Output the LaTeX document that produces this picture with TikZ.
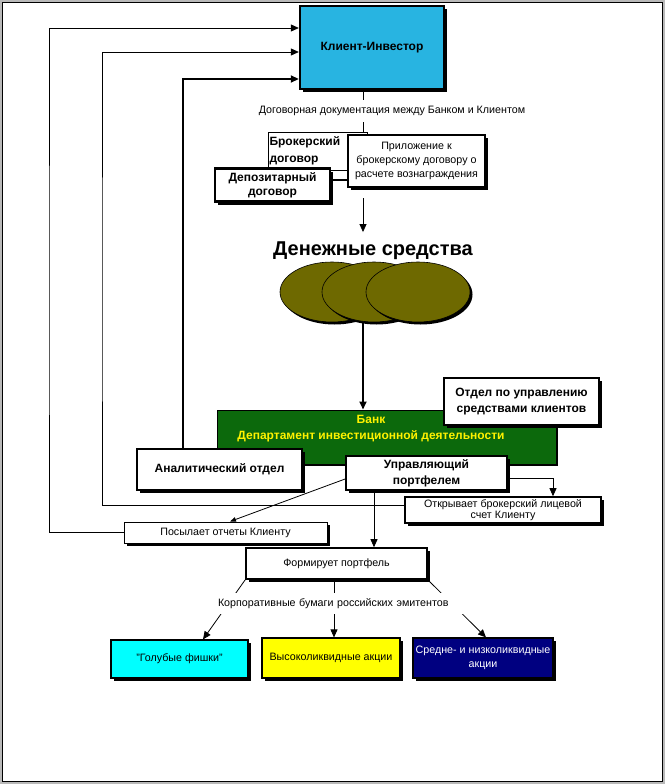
\documentclass[tikz,border=0pt]{standalone}
\usepackage{fontspec}
\setmainfont{Liberation Sans}
\usetikzlibrary{arrows.meta,shadows,shapes.geometric}
\definecolor{clientblue}{RGB}{40,180,225}
\definecolor{bankgreen}{RGB}{12,105,12}
\definecolor{coinolive}{RGB}{110,105,0}
\definecolor{navyblue}{RGB}{0,0,128}
\definecolor{chipcyan}{RGB}{0,255,255}
\definecolor{chipyellow}{RGB}{255,255,0}
\tikzset{
  box/.style={draw,fill=white,line width=1.2pt,inner sep=1pt,align=center,font=\fontsize{10.7}{11.5}\selectfont},
  bbox/.style={box,font=\bfseries\fontsize{12}{16}\selectfont},
  shadowed/.style={drop shadow={shadow xshift=3pt,shadow yshift=-3pt,opacity=1,fill=black}},
  coin/.style={ellipse,draw,line width=0.6pt,fill=coinolive,minimum width=104,minimum height=60,inner sep=0pt,
    drop shadow={shadow xshift=2.5pt,shadow yshift=-2.5pt,opacity=1,fill=black}},
  link/.style={line width=0.8pt},
  heavy/.style={line width=1.8pt},
  smalltext/.style={font=\fontsize{10.7}{11.5}\selectfont},
}
\begin{document}
\begin{tikzpicture}[x=1pt,y=-1pt,>={Triangle[length=8pt,width=7pt]}]
\useasboundingbox (0,0) rectangle (665,784);
% frame
\draw[gray!55,line width=2pt] (1,1) rectangle (664,783);
\draw[line width=0.8pt] (2.5,2.5) rectangle (662.5,781.5);

% client and contracts
\node[bbox,shadowed,fill=clientblue,line width=2.4pt,minimum width=144,minimum height=83] (client) at (372,47.5) {Клиент-Инвестор};
\node[bbox,align=left,text width=96,inner sep=1.5pt,minimum height=38,line width=1pt,font=\bfseries\fontsize{12}{17}\selectfont] (brok) at (317.5,151) {Брокерский\\договор};
\draw[link] ([xshift=-9pt]client.south) -- ([xshift=45.5pt]brok.north);
\node[smalltext,fill=white,inner sep=0pt,minimum height=22] (doclbl) at (392,111) {Договорная документация между Банком и Клиентом};
\node[box,shadowed,line width=1.6pt,minimum width=137,minimum height=52,font=\fontsize{10.7}{14}\selectfont] (pril) at (416.5,161) {Приложение к\\брокерскому договору о\\расчете вознаграждения};
\node[bbox,shadowed,line width=2.2pt,minimum width=115,minimum height=33,font=\bfseries\fontsize{12}{14}\selectfont] (depo) at (272.5,185) {Депозитарный\\договор};
\draw[line width=2.5pt] ([yshift=5pt]depo.east) -- ([yshift=5pt]depo.east -| pril.west);

% money
\coordinate (mtop) at (363,198);
\node[font=\bfseries\fontsize{20}{22}\selectfont,inner sep=9pt,anchor=base] (money) at (373,255) {Денежные средства};
\draw[link,->] (mtop) -- (mtop |- money.north);
\foreach \cx [count=\i] in {332,374,418}
  \node[coin] (coin\i) at (\cx,292) {};

% bank
\node[draw,line width=1pt,fill=bankgreen,minimum width=339,minimum height=54,
  drop shadow={shadow xshift=2pt,shadow yshift=-2pt,opacity=1,fill=black}] (bank) at (386.5,437) {};
\node[font=\bfseries\fontsize{12}{16}\selectfont,text=yellow,align=center] (banklbl) at (371,429) {Банк\\Департамент инвестиционной деятельности};
\draw[heavy,->] (coin2.south -| mtop) -- (mtop |- bank.north);
\node[bbox,shadowed,line width=1.8pt,minimum width=155,minimum height=47] (otdel) at (521.5,401.5) {Отдел по управлению\\средствами клиентов};
\node[bbox,shadowed,line width=1.8pt,minimum width=165,minimum height=41] (anal) at (219.5,469.5) {Аналитический отдел};
\node[bbox,shadowed,line width=1.8pt,minimum width=161,minimum height=34] (upr) at (426.5,473) {Управляющий\\портфелем};
\node[box,shadowed,line width=1.6pt,minimum width=196,minimum height=26] (otkr) at (503,510) {Открывает брокерский лицевой\\счет Клиенту};
\node[box,shadowed,line width=1pt,minimum width=203,minimum height=21] (posyl) at (225.5,532.5) {Посылает отчеты Клиенту};
\node[box,shadowed,line width=1.6pt,minimum width=181,minimum height=31] (form) at (336.5,563.5) {Формирует портфель};

% back to the client
\coordinate (l1) at (49,300);
\coordinate (l2) at (102,300);
\draw[link,->] (posyl.west) -| (l1) |- ([yshift=19.5pt]client.west);
\draw[link,->] ([yshift=5pt]otkr.west) -| (l2) |- ([yshift=-4.5pt]client.west);
\draw[heavy,->] ([xshift=-36.5pt]anal.north) |- ([yshift=-31.5pt]client.west);

% manager
\draw[link,->] ([yshift=-5pt]upr.east) -| ([xshift=50pt]otkr.north);
\draw[link,-{Triangle[length=6pt,width=4.5pt]}] ([yshift=-6pt]upr.west) -- ([xshift=4.5pt]posyl.north);
\draw[link,->] ([xshift=-52.5pt]upr.south) -- ([xshift=37.5pt]form.north);

% shares
\node[box,shadowed,fill=chipcyan,minimum width=137,minimum height=38] (blue) at (179.5,659) {"Голубые фишки"};
\node[box,shadowed,fill=chipyellow,minimum width=138,minimum height=40] (yel) at (331,658) {Высоколиквидные акции};
\node[box,shadowed,fill=navyblue,text=white,minimum width=140,minimum height=40,font=\fontsize{10.7}{14}\selectfont] (navy) at (483,658) {Средне- и низколиквидные\\акции};
\draw[link,->] (form.south west) -- ([xshift=23.5pt]blue.north);
\draw[link,->] ([xshift=-2.5pt]form.south) -- ([xshift=-2.5pt]form.south |- yel.north);
\draw[link,->] (form.south east) -- ([xshift=3pt]navy.north);
\node[smalltext,fill=white,inner xsep=0pt,inner ysep=0pt,text width=246,align=left,minimum height=21] (corp) at (341,603.5) {Корпоративные бумаги российских эмитентов};
\end{tikzpicture}
\end{document}
